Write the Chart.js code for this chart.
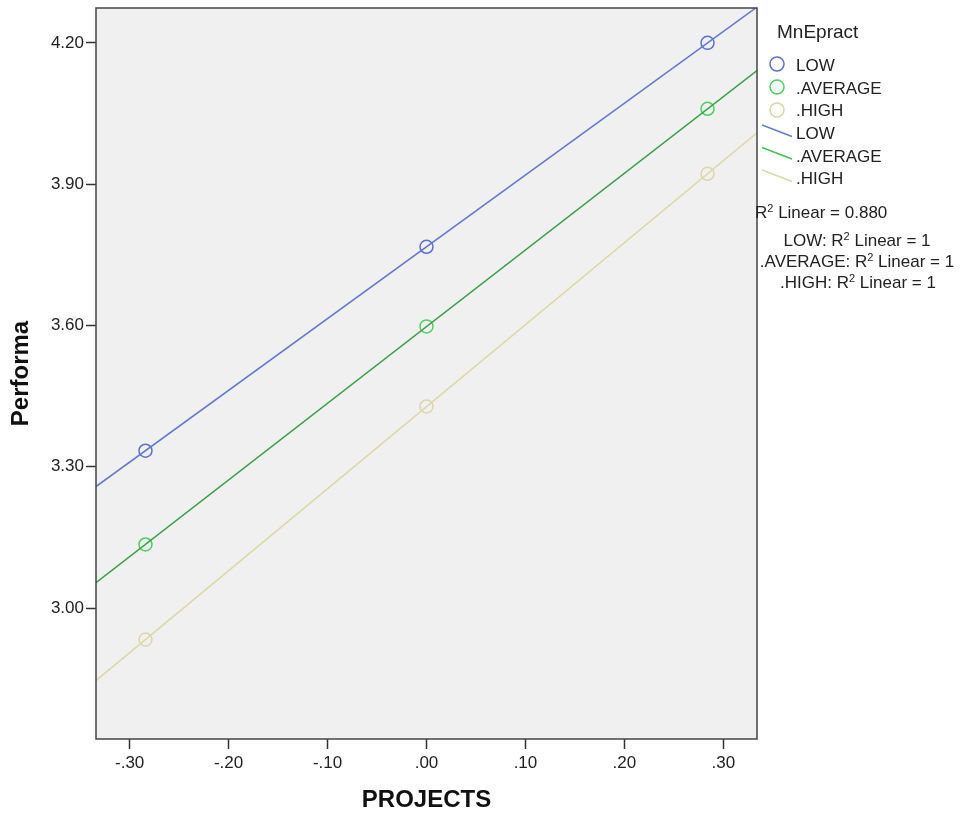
<!DOCTYPE html>
<html>
<head>
<meta charset="utf-8">
<script src="https://cdn.jsdelivr.net/npm/chart.js@4/dist/chart.umd.min.js"></script>
<style>
  body { margin: 0; background: #fff; }
  #wrap { position: relative; width: 961px; height: 813px; }
  .lg { position: absolute; font-family: "Liberation Sans", Arial, sans-serif; font-size: 17px; color: #222; white-space: nowrap; transform: translateY(-50%); line-height: 1; }
  .lg sup { font-size: 11px; vertical-align: 6px; }
  svg.mk { position: absolute; overflow: visible; }
</style>
</head>
<body>
<div id="wrap">
  <canvas id="myChart" width="961" height="813"></canvas>
  <!-- leyenda -->
  <div class="lg" style="left:777px; top:31px; font-size:19px;">MnEpract</div>
  <svg class="mk" width="961" height="813" style="left:0;top:0;pointer-events:none">
    <circle cx="777" cy="64" r="7" fill="none" stroke="#5b6fd0" stroke-width="1.5"/>
    <circle cx="777" cy="87" r="7" fill="none" stroke="#4fcf60" stroke-width="1.5"/>
    <circle cx="777" cy="110" r="7" fill="none" stroke="#dcd6a8" stroke-width="1.5"/>
    <line x1="762" y1="125" x2="792" y2="136.5" stroke="#6378cc" stroke-width="1.5"/>
    <line x1="762" y1="147.5" x2="792" y2="159" stroke="#3dbf52" stroke-width="1.5"/>
    <line x1="762" y1="170" x2="792" y2="181.5" stroke="#dcd8a8" stroke-width="1.5"/>
  </svg>
  <div class="lg" style="left:796px; top:65px;">LOW</div>
  <div class="lg" style="left:796px; top:88px;">.AVERAGE</div>
  <div class="lg" style="left:796px; top:110px;">.HIGH</div>
  <div class="lg" style="left:796px; top:133px;">LOW</div>
  <div class="lg" style="left:796px; top:156px;">.AVERAGE</div>
  <div class="lg" style="left:796px; top:178px;">.HIGH</div>
  <div class="lg" style="left:755px; top:212px;">R<sup>2</sup> Linear = 0.880</div>
  <div class="lg" style="left:857px; top:240px; transform:translate(-50%,-50%);">LOW: R<sup>2</sup> Linear = 1</div>
  <div class="lg" style="left:857px; top:261px; transform:translate(-50%,-50%);">.AVERAGE: R<sup>2</sup> Linear = 1</div>
  <div class="lg" style="left:858px; top:282px; transform:translate(-50%,-50%);">.HIGH: R<sup>2</sup> Linear = 1</div>
</div>
<script>
// Datos
const projects = [-0.284, 0, 0.284];
const lowMeans = [3.334, 3.767, 4.200];
const avgMeans = [3.135, 3.598, 4.060];
const highMeans = [2.933, 3.428, 3.922];

// Líneas de ajuste (extremos del eje X)
const fitX = [-0.334, 0.334];
const lowFit = [3.258, 4.276];
const avgFit = [3.054, 4.141];
const highFit = [2.846, 4.009];

// Marcas de los ejes
const xTicks = [-0.3, -0.2, -0.1, 0, 0.1, 0.2, 0.3];
const yTicks = [3.0, 3.3, 3.6, 3.9, 4.2];

const chartDOM = document.getElementById("myChart");

function puntos(xs, ys) {
  return xs.map((x, i) => ({ x: x, y: ys[i] }));
}

function formatoX(v) {
  const s = Math.abs(v).toFixed(2).replace(/^0/, "");
  return v < -1e-9 ? "-" + s : s;
}

// Fondo y marco del área del gráfico
const marco = {
  id: "marco",
  beforeDatasetsDraw(chart) {
    const { ctx, chartArea: a } = chart;
    ctx.save();
    ctx.fillStyle = "#f0f0f0";
    ctx.fillRect(a.left, a.top, a.right - a.left, a.bottom - a.top);
    ctx.restore();
  },
  afterDatasetsDraw(chart) {
    const { ctx, chartArea: a } = chart;
    ctx.save();
    ctx.strokeStyle = "#444";
    ctx.lineWidth = 1.5;
    ctx.strokeRect(a.left, a.top, a.right - a.left, a.bottom - a.top);
    ctx.restore();
  }
};

function lineaSet(ys, color) {
  return {
    data: puntos(fitX, ys),
    showLine: true,
    borderColor: color,
    borderWidth: 1.5,
    pointRadius: 0,
    fill: false
  };
}

function puntoSet(ys, color) {
  return {
    data: puntos(projects, ys),
    showLine: false,
    pointStyle: "circle",
    pointRadius: 6.5,
    pointBorderWidth: 1.5,
    pointBorderColor: color,
    pointBackgroundColor: "rgba(0,0,0,0)"
  };
}

const config = {
  type: "scatter",
  data: {
    datasets: [
      lineaSet(lowFit, "#6378cc"),
      lineaSet(avgFit, "#3c9c48"),
      lineaSet(highFit, "#dcd8a8"),
      puntoSet(lowMeans, "#5b6fd0"),
      puntoSet(avgMeans, "#4fcf60"),
      puntoSet(highMeans, "#dcd6a8")
    ]
  },
  options: {
    responsive: false,
    animation: false,
    layout: { padding: { left: 0, right: 204, top: 8, bottom: 0 } },
    plugins: { legend: { display: false }, tooltip: { enabled: false } },
    scales: {
      x: {
        type: "linear",
        min: fitX[0],
        max: fitX[1],
        afterBuildTicks: (axis) => { axis.ticks = xTicks.map(v => ({ value: v })); },
        afterFit: (axis) => { axis.height = 74; axis.paddingLeft = 0; axis.paddingRight = 0; },
        grid: { drawOnChartArea: false, tickLength: 10, tickColor: "#333", tickWidth: 1.5 },
        border: { display: false },
        ticks: {
          padding: 4,
          color: "#222",
          font: { family: "'Liberation Sans', Arial", size: 17 },
          callback: (v) => formatoX(v)
        },
        title: {
          display: true,
          text: "PROJECTS",
          color: "#111",
          font: { family: "'Liberation Sans', Arial", size: 24, weight: "bold", lineHeight: 1 },
          padding: { top: 0, bottom: 1 }
        }
      },
      y: {
        type: "linear",
        min: 2.722,
        max: 4.274,
        afterBuildTicks: (axis) => { axis.ticks = yTicks.map(v => ({ value: v })); },
        afterFit: (axis) => { axis.width = 96; axis.paddingTop = 0; axis.paddingBottom = 0; },
        grid: { drawOnChartArea: false, tickLength: 10, tickColor: "#333", tickWidth: 1.5 },
        border: { display: false },
        ticks: {
          padding: 2,
          color: "#222",
          font: { family: "'Liberation Sans', Arial", size: 17 },
          callback: (v) => v.toFixed(2)
        },
        title: {
          display: true,
          text: "Performa",
          color: "#111",
          font: { family: "'Liberation Sans', Arial", size: 24, weight: "bold", lineHeight: 1 },
          padding: { top: 9, bottom: 0 }
        }
      }
    }
  },
  plugins: [marco]
};

new Chart(chartDOM.getContext("2d"), config);
</script>
</body>
</html>
